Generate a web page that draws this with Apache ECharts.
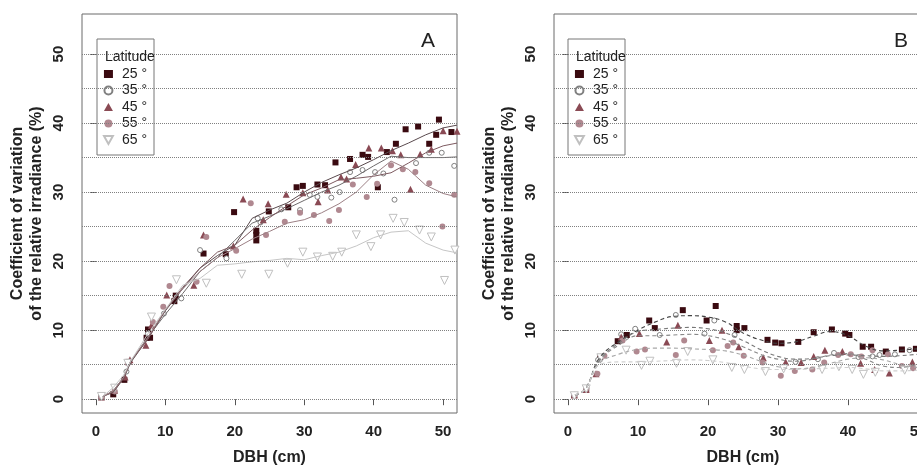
<!DOCTYPE html>
<html>
<head>
<meta charset="utf-8">
<title>CV of relative irradiance vs DBH</title>
<script src="https://cdn.jsdelivr.net/npm/echarts@6/dist/echarts.min.js"></script>
<style>
  html, body { margin: 0; padding: 0; background: #fff; }
  #chart { width: 917px; height: 466px; }
</style>
</head>
<body>
<div id="chart"></div>
<script>
// latitude classes (legend)
var latNames = ['25 °', '35 °', '45 °', '55 °', '65 °'];
var xTicks = [0, 10, 20, 30, 40, 50];
var yTicks = [0, 10, 20, 30, 40, 50];
var gridVals = [0, 5, 10, 15, 20, 25, 30, 35, 40, 45, 50];

// panel A - points
var a25x = [0.8, 2.5, 4.1, 4.7, 7.3, 7.5, 7.8, 11.3, 11.5, 15.5, 18.7, 19.9, 23.1, 23.1, 23.1, 24.9, 27.7, 28.9, 29.8, 31.9, 33.0, 34.5, 36.6, 38.4, 39.2, 40.6, 41.9, 43.2, 44.6, 46.4, 48.0, 49.0, 49.4, 51.2];
var a25y = [0.3, 0.7, 2.8, 5.4, 8.9, 10.1, 8.9, 14.2, 15.0, 21.1, 21.0, 27.1, 24.4, 23.8, 23.0, 27.2, 27.8, 30.7, 30.9, 31.1, 31.0, 34.3, 34.8, 35.4, 35.1, 30.7, 35.8, 37.0, 39.1, 39.5, 37.0, 38.3, 40.5, 38.7];
var a35x = [0.8, 2.7, 4.4, 7.5, 9.8, 12.3, 15.0, 18.8, 23.3, 23.7, 26.7, 29.4, 30.8, 31.9, 33.9, 35.1, 36.6, 38.4, 40.2, 41.4, 43.0, 46.1, 48.0, 49.8, 51.6];
var a35y = [0.4, 1.1, 4.0, 9.5, 12.4, 14.6, 21.6, 20.4, 26.2, 25.6, 27.5, 27.4, 29.6, 29.3, 29.2, 30.0, 32.9, 33.2, 32.9, 32.7, 28.9, 34.2, 35.7, 35.7, 33.8];
var a45x = [0.8, 2.7, 4.2, 4.9, 7.2, 8.0, 10.2, 14.1, 15.5, 19.8, 21.2, 24.1, 24.8, 27.4, 29.8, 32.0, 33.4, 35.3, 36.1, 37.4, 39.3, 41.1, 42.7, 43.9, 45.3, 46.7, 48.3, 50.0, 52.0];
var a45y = [0.3, 1.3, 3.2, 5.7, 7.8, 10.7, 15.1, 16.5, 23.8, 22.2, 29.0, 26.0, 28.3, 29.7, 29.9, 28.6, 30.3, 32.2, 31.9, 34.0, 36.4, 36.4, 36.0, 35.4, 30.4, 35.5, 36.2, 38.9, 38.8];
var a55x = [0.8, 2.7, 4.6, 8.2, 9.7, 10.6, 14.5, 15.9, 20.2, 22.3, 24.5, 27.2, 29.4, 31.4, 33.6, 35.0, 37.0, 39.0, 40.5, 42.5, 44.2, 46.0, 48.0, 49.9, 51.6];
var a55y = [0.3, 1.2, 5.2, 11.2, 13.4, 16.4, 17.0, 23.5, 21.5, 28.4, 23.8, 25.7, 27.0, 26.7, 25.8, 27.4, 31.1, 29.3, 31.2, 33.9, 33.3, 32.9, 31.3, 25.0, 29.6];
var a65x = [0.8, 2.7, 4.6, 8.0, 11.6, 15.9, 21.0, 24.9, 27.6, 29.8, 31.9, 34.1, 35.4, 37.5, 39.6, 41.0, 42.8, 44.4, 46.6, 48.3, 50.2, 51.7];
var a65y = [0.4, 1.6, 5.2, 11.9, 17.3, 16.8, 18.1, 18.1, 19.7, 21.3, 20.6, 20.7, 21.3, 23.8, 22.1, 23.8, 26.2, 25.6, 24.5, 23.5, 17.2, 21.6];

// panel A - running mean lines
var aLineX = [1, 2.5, 4, 5, 7.5, 10, 12.5, 15, 17.5, 20, 22.5, 25, 27.5, 30, 32.5, 35, 37.5, 40, 42.5, 45, 47.5, 50, 52];
var aLine25 = [0.4, 1.0, 3.0, 5.3, 8.8, 12.8, 16.0, 19.0, 20.8, 22.3, 26.2, 27.4, 28.4, 30.0, 31.4, 32.5, 33.5, 34.7, 36.0, 37.1, 38.3, 39.3, 39.7];
var aLine35 = [0.4, 1.2, 3.2, 5.4, 9.0, 12.3, 15.3, 18.5, 20.5, 23.0, 25.5, 26.5, 27.6, 28.8, 30.0, 31.0, 32.3, 33.8, 35.2, 35.0, 35.0, 35.0, 35.1];
var aLine45 = [0.4, 1.1, 3.1, 5.5, 8.7, 12.9, 16.2, 19.0, 21.3, 22.3, 24.5, 26.3, 28.0, 29.6, 30.6, 31.8, 32.0, 32.3, 32.8, 34.2, 35.7, 36.7, 37.1];
var aLine55 = [0.4, 1.2, 3.2, 5.5, 9.0, 13.0, 16.0, 18.5, 20.5, 21.8, 23.2, 24.3, 25.5, 26.0, 27.0, 28.3, 30.0, 32.5, 34.5, 33.3, 31.0, 29.8, 29.3];
var aLine65 = [0.4, 1.7, 3.5, 5.5, 9.5, 13.0, 16.5, 17.5, 19.4, 19.6, 19.9, 20.1, 20.4, 20.2, 20.8, 21.3, 22.2, 23.4, 24.2, 24.4, 22.6, 21.6, 21.2];

// panel B - points
var b25x = [0.9, 2.6, 4.6, 7.1, 8.4, 11.6, 12.4, 16.4, 19.8, 21.1, 24.1, 24.1, 25.2, 28.5, 29.6, 30.5, 32.9, 35.1, 37.7, 39.6, 40.2, 42.1, 43.3, 45.4, 47.7, 49.7];
var b25y = [0.6, 1.5, 6.1, 8.4, 9.3, 11.4, 10.3, 12.9, 11.4, 13.5, 10.6, 10.0, 10.3, 8.6, 8.2, 8.1, 8.3, 9.7, 10.1, 9.5, 9.3, 7.6, 7.6, 6.9, 7.2, 7.3];
var b35x = [0.9, 2.6, 4.3, 7.6, 9.6, 13.1, 15.4, 19.5, 20.9, 23.8, 27.7, 32.5, 35.7, 38.0, 41.5, 43.5, 44.5, 46.7, 48.8];
var b35y = [0.6, 1.6, 5.7, 9.4, 10.2, 9.3, 12.2, 9.5, 11.4, 9.3, 5.9, 5.4, 5.8, 6.7, 6.1, 6.2, 6.4, 6.5, 7.1];
var b45x = [0.9, 2.6, 4.0, 7.6, 10.2, 14.1, 15.7, 20.2, 22.0, 24.4, 27.9, 31.1, 33.3, 35.1, 36.7, 39.2, 41.8, 43.8, 45.9, 49.2];
var b45y = [0.6, 1.4, 3.7, 9.0, 9.5, 8.3, 10.7, 8.5, 10.0, 7.6, 6.0, 5.4, 5.3, 6.2, 7.1, 6.9, 5.2, 4.3, 3.8, 5.4];
var b55x = [0.9, 2.6, 4.2, 5.2, 7.8, 9.8, 11.0, 15.4, 16.6, 20.7, 22.8, 23.6, 25.1, 27.8, 30.4, 32.4, 34.9, 36.6, 38.6, 40.4, 41.9, 43.5, 45.7, 47.7, 49.3];
var b55y = [0.6, 1.5, 3.7, 6.3, 8.5, 6.9, 7.2, 6.4, 8.5, 7.1, 7.7, 8.2, 6.3, 5.3, 3.4, 4.1, 4.3, 5.3, 6.4, 6.5, 6.2, 7.1, 6.5, 4.8, 4.5];
var b65x = [0.9, 2.6, 4.7, 8.3, 10.5, 11.7, 15.5, 17.1, 20.7, 23.4, 25.2, 28.2, 30.8, 36.3, 38.7, 40.6, 42.2, 43.9, 48.1];
var b65y = [0.5, 1.5, 6.0, 7.1, 4.9, 5.5, 5.2, 6.9, 5.7, 4.6, 4.3, 4.0, 4.4, 4.3, 4.7, 4.3, 3.6, 3.9, 4.2];

// panel B - smooth fitted lines (dashed)
var bLineX = [1, 2.5, 4.5, 7.5, 10, 12.5, 15, 17.5, 20, 22.5, 25, 27.5, 30, 32.5, 35, 37.5, 40, 42.5, 45, 47.5, 50, 52];
var bLine25 = [0.6, 1.5, 6.0, 8.5, 10.0, 11.2, 12.0, 12.1, 11.9, 11.2, 9.6, 8.6, 8.1, 8.3, 9.1, 9.8, 9.2, 7.7, 7.0, 7.1, 7.3, 7.4];
var bLine35 = [0.6, 1.5, 5.7, 8.3, 9.8, 10.1, 10.3, 10.4, 10.2, 9.6, 8.5, 7.2, 6.2, 5.8, 5.9, 6.3, 6.4, 6.3, 6.2, 6.3, 6.5, 6.6];
var bLine45 = [0.6, 1.5, 5.6, 8.0, 9.2, 9.2, 9.3, 9.4, 9.2, 8.6, 7.6, 6.5, 5.8, 5.5, 5.8, 6.4, 6.6, 5.8, 4.8, 4.6, 5.0, 5.2];
var bLine55 = [0.6, 1.5, 5.2, 6.6, 7.2, 7.4, 7.4, 7.3, 7.2, 7.0, 6.4, 5.5, 4.7, 4.4, 4.6, 5.2, 5.8, 6.0, 5.7, 5.0, 4.6, 4.5];
var bLine65 = [0.6, 1.5, 5.0, 5.4, 5.4, 5.5, 5.6, 5.7, 5.6, 5.3, 4.8, 4.4, 4.3, 4.3, 4.4, 4.5, 4.6, 4.4, 4.1, 4.1, 4.2, 4.3];

var FONT = 'Liberation Sans, Arial, sans-serif';
var DOWN_TRI = 'path://M0,0 L10,0 L5,9 Z';

// marker style for each latitude
var markers = [
    { symbol: 'rect', size: 6, rotate: 0, itemStyle: { color: '#3a0a10', opacity: 1 } },
    { symbol: 'circle', size: 5, rotate: 0, itemStyle: { color: '#fff', borderColor: '#808080', borderWidth: 1, opacity: 1 } },
    { symbol: 'triangle', size: 7, rotate: 0, itemStyle: { color: '#8a4a54', opacity: 1 } },
    { symbol: 'circle', size: 6, rotate: 0, itemStyle: { color: '#b08890', opacity: 1 } },
    { symbol: DOWN_TRI, size: 8, rotate: 0, itemStyle: { color: '#fff', borderColor: '#c0c0c0', borderWidth: 1, opacity: 1 } }
];
var aLineColors = ['#5a4a4e', '#6e6a6b', '#7d5a60', '#9c8085', '#c6c6c6'];
var bLineColors = ['#444444', '#777777', '#888888', '#a8a8a8', '#cfcfcf'];

function pairs(xs, ys) {
    return xs.map(function(x, i) { return [x, ys[i]]; });
}

function makeX(idx) {
    return {
        type: 'value', gridIndex: idx, min: -2, max: 52,
        axisLine: { show: false },
        axisTick: { show: true, customValues: xTicks, length: 6, lineStyle: { color: '#555' } },
        axisLabel: { customValues: xTicks, fontFamily: FONT, fontWeight: 'bold', fontSize: 15, color: '#222', margin: 11 },
        splitLine: { show: false },
        name: 'DBH (cm)', nameLocation: 'middle', nameGap: 37,
        nameTextStyle: { fontFamily: FONT, fontWeight: 'bold', fontSize: 16, color: '#222' }
    };
}

function makeY(idx) {
    return {
        type: 'value', gridIndex: idx, min: -2, max: 55.8,
        axisLine: { show: false },
        axisTick: { show: true, customValues: yTicks, length: 6, lineStyle: { color: '#555' } },
        axisLabel: { customValues: yTicks, rotate: 90, fontFamily: FONT, fontWeight: 'bold', fontSize: 15, color: '#222', margin: 16 },
        splitLine: { show: false },
        name: 'Coefficient of variation\nof the relative irradiance (%)',
        nameLocation: 'middle', nameGap: 36,
        nameTextStyle: { fontFamily: FONT, fontWeight: 'bold', fontSize: 16, lineHeight: 19, color: '#222' }
    };
}

function makeLegend(left) {
    return {
        data: latNames.map(function(nm, i) {
            return i === 4 ? { name: nm, icon: DOWN_TRI } : { name: nm };
        }),
        orient: 'vertical', left: left, top: 39,
        padding: [28, 7, 8, 6], itemGap: 2.5, itemWidth: 9, itemHeight: 8,
        backgroundColor: '#fff', borderColor: '#777', borderWidth: 1, borderRadius: 0,
        selectedMode: false,
        textStyle: { fontFamily: FONT, fontSize: 14, lineHeight: 14, color: '#222', padding: [0, 0, 0, 4] }
    };
}

var series = [];
// dotted reference lines, one carrier series per panel
[0, 1].forEach(function(idx) {
    series.push({
        type: 'line', name: 'grid' + idx, xAxisIndex: idx, yAxisIndex: idx, data: [], silent: true,
        markLine: {
            silent: true, symbol: ['none', 'none'], label: { show: false },
            lineStyle: { type: 'dotted', color: '#808080', width: 1 },
            data: gridVals.map(function(v) { return { yAxis: v }; })
        }
    });
});

var aPts = [[a25x, a25y], [a35x, a35y], [a45x, a45y], [a55x, a55y], [a65x, a65y]];
var bPts = [[b25x, b25y], [b35x, b35y], [b45x, b45y], [b55x, b55y], [b65x, b65y]];
var aLines = [aLine25, aLine35, aLine45, aLine55, aLine65];
var bLines = [bLine25, bLine35, bLine45, bLine55, bLine65];

// fitted lines first so points sit on top
latNames.forEach(function(nm, i) {
    series.push({
        type: 'line', name: nm + ' A fit', xAxisIndex: 0, yAxisIndex: 0, silent: true,
        data: pairs(aLineX, aLines[i]), symbol: 'none',
        lineStyle: { color: aLineColors[i], width: 1 }
    });
    series.push({
        type: 'line', name: nm + ' B fit', xAxisIndex: 1, yAxisIndex: 1, silent: true,
        data: pairs(bLineX, bLines[i]), symbol: 'none', smooth: 0.4,
        lineStyle: { color: bLineColors[i], width: 1.1, type: [4, 3] }
    });
});
latNames.forEach(function(nm, i) {
    var m = markers[i];
    [aPts, bPts].forEach(function(pts, idx) {
        series.push({
            type: 'scatter', name: nm, xAxisIndex: idx, yAxisIndex: idx,
            data: pairs(pts[i][0], pts[i][1]),
            symbol: m.symbol, symbolSize: m.size, symbolRotate: m.rotate,
            itemStyle: m.itemStyle
        });
    });
});

var option = {
    backgroundColor: '#fff',
    animation: false,
    textStyle: { fontFamily: FONT },
    grid: [
        { left: 82, top: 14, width: 375, height: 399, outerBoundsMode: 'none', show: true, borderColor: '#6a6a6a', borderWidth: 1 },
        { left: 554, top: 14, width: 378, height: 399, outerBoundsMode: 'none', show: true, borderColor: '#6a6a6a', borderWidth: 1 }
    ],
    title: [
        { text: 'Latitude', left: 100, top: 45, textStyle: { fontFamily: FONT, fontSize: 14, fontWeight: 'normal', color: '#222' } },
        { text: 'Latitude', left: 571, top: 45, textStyle: { fontFamily: FONT, fontSize: 14, fontWeight: 'normal', color: '#222' } },
        { text: 'A', left: 416, top: 26, textStyle: { fontFamily: FONT, fontSize: 21, fontWeight: 'normal', color: '#222' } },
        { text: 'B', left: 889, top: 26, textStyle: { fontFamily: FONT, fontSize: 21, fontWeight: 'normal', color: '#222' } }
    ],
    legend: [makeLegend(97), makeLegend(568)],
    xAxis: [makeX(0), makeX(1)],
    yAxis: [makeY(0), makeY(1)],
    series: series
};

var myChart = echarts.init(document.getElementById('chart'), null, { renderer: 'canvas' });
myChart.setOption(option);
</script>
</body>
</html>
